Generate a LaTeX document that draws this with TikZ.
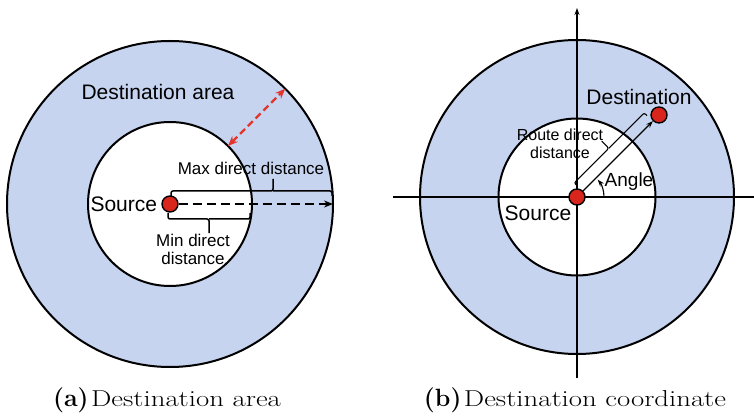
\documentclass[tikz,border=0pt]{standalone}
\usepackage{fontspec}
\newfontfamily\figfont{Liberation Sans}
\usetikzlibrary{positioning,arrows.meta}
\definecolor{areaBlue}{HTML}{C7D4F0}
\definecolor{dotRed}{HTML}{D9261D}
\definecolor{arrRed}{HTML}{E3352B}
\newcommand{\subtag}[1]{{\fontsize{25}{28}\selectfont\bfseries\scalebox{0.8}[1]{(#1)}}}

\begin{document}
\begin{tikzpicture}[x=1pt, y=1pt,
    ring/.style={circle, draw=black, line width=2pt,
                 inner sep=0pt, outer sep=0pt},
    dot/.style={circle, draw=black, line width=1.4pt, fill=dotRed,
                minimum size=16pt, inner sep=0pt},
    lbl/.style={font=\figfont\fontsize{17}{18}\selectfont,
                align=center, inner sep=1pt},
    biglbl/.style={font=\figfont\fontsize{21}{24}\selectfont, inner sep=1pt},
    brk/.style={line width=1.5pt, rounded corners=2pt},
    darr/.style={-{Stealth[length=9pt,width=7pt]}, line width=2pt,
                 dash pattern=on 9pt off 5pt},
    redarr/.style={{Stealth[length=10pt,width=8pt]}-{Stealth[length=10pt,width=8pt]},
                   line width=2.3pt, arrRed, dash pattern=on 7pt off 4pt},
    axis/.style={line width=1.2pt},
    thinarr/.style={-{Stealth[length=7pt,width=5pt]}, line width=1.2pt},
    captxt/.style={font=\fontsize{23}{26}\selectfont, xscale=1.25, transform shape},
]
\useasboundingbox (0,0) rectangle (754,418);

% (a) destination area
\node[ring, fill=areaBlue, minimum size=326pt] (outerA) at (170,214) {};
\node[ring, fill=white, minimum size=164pt] (innerA) at (170,214) {};
\node[dot] (srcA) at (170,214) {};

\draw[darr] (srcA.east) -- (outerA.east);
\draw[redarr] (innerA.45) -- (outerA.45);

% brackets
\draw[brk] (171,222) |- (273,227) -- (273,239);
\draw[brk] (273,227) -| (332,222);
\draw[brk] (168,205) |- (209,199) -- (209,185);
\draw[brk] (209,199) -| (250,205);

\node[biglbl] (areaLbl) at (158,326) {Destination area};
\node[lbl] (maxLbl) at (251,250) {Max direct distance};
\node[lbl] (minLbl) at (193,169) {Min direct\\distance};
\node[biglbl, left=3pt of srcA] (srcLblA) {Source};

% (b) destination coordinate
\node[ring, fill=areaBlue, minimum size=314pt] (outerB) at (577,221) {};
\node[ring, fill=white, minimum size=157pt] (innerB) at (577,221) {};

\coordinate (xL) at (393,221);
\coordinate (xR) at (754,221);
\coordinate (yB) at (577,40);
\coordinate (yT) at (577,410);
\draw[axis] (xL) -- (xR);
\draw[axis, thinarr] (yB) -- (yT);

\node[dot] (srcB) at (577,221) {};
\path (srcB) ++(45:116) node[dot] (dstB) {};
\draw[thinarr] (srcB) -- (dstB);

\begin{scope}[shift={(577,221)}, rotate=45]
  \draw[brk, line width=1.1pt] (8,8) |- (57,12) -- (57,22);
  \draw[brk, line width=1.1pt] (57,12) -| (107,8);
\end{scope}

\draw[thinarr, line width=1.1pt] (srcB.center) ++(0:27)
    arc[start angle=0, end angle=40, radius=27];

\node[lbl, font=\figfont\fontsize{16}{18}\selectfont] (routeLbl)
    at (560,274) {Route direct\\distance};
\node[biglbl] (dstLbl) at (639,321) {Destination};
\node[biglbl, font=\figfont\fontsize{19}{22}\selectfont] (angLbl)
    at (629,236) {Angle};
\node[biglbl] (srcLblB) at (538,205) {Source};

% captions
\node[captxt] (capA) at (167,18) {\subtag{a}\hspace{2pt}Destination area};
\node[captxt] (capB) at (575,18) {\subtag{b}\hspace{2pt}Destination coordinate};

\end{tikzpicture}
\end{document}
